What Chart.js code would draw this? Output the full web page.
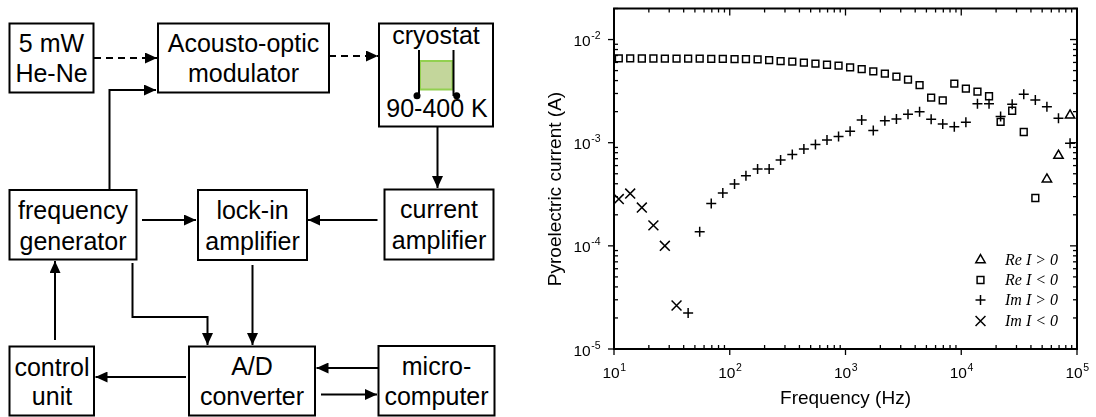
<!DOCTYPE html>
<html lang="en">

<head>
  <meta charset="UTF-8" />
  <title>Pyroelectric current measurement</title>
  <script src="https://cdn.jsdelivr.net/npm/chart.js@4.4.0/dist/chart.umd.min.js"></script>
  <style>
    html,
    body {
      margin: 0;
      padding: 0;
      background: #fff;
    }

    body {
      width: 1096px;
      height: 417px;
      position: relative;
      overflow: hidden;
      font-family: "Liberation Sans", Arial, sans-serif;
    }

    #setup {
      position: absolute;
      left: 0;
      top: 0;
    }

    .plot {
      position: absolute;
      left: 520px;
      top: 0;
    }

    #setup text {
      font-family: "Liberation Sans", Arial, sans-serif;
      font-size: 25px;
      text-anchor: middle;
      fill: #000;
    }
  </style>
</head>

<body>

  <!-- Block diagram of the set-up -->
  <svg id="setup" width="520" height="417" viewBox="0 0 520 417">
    <defs>
      <marker id="head" markerWidth="12" markerHeight="11" refX="12" refY="5.5" orient="auto"
        markerUnits="userSpaceOnUse">
        <path d="M0,0 L12,5.5 L0,11 z" fill="#000" />
      </marker>
    </defs>

    <!-- boxes -->
    <g fill="none" stroke="#000" stroke-width="2">
      <rect x="9.5" y="23.5" width="84" height="69" />
      <rect x="158" y="23.5" width="171" height="69" />
      <rect x="379" y="23.5" width="114" height="103" />
      <rect x="9.5" y="190" width="127" height="69.5" />
      <rect x="198" y="190" width="109" height="70" />
      <rect x="384.5" y="189.5" width="109" height="70" />
      <rect x="9.5" y="346.5" width="84.5" height="69" />
      <rect x="189" y="346.5" width="126" height="69" />
      <rect x="378.5" y="346" width="116" height="69.5" />
    </g>

    <!-- sample inside the cryostat -->
    <rect x="420" y="61" width="32.5" height="28.5" fill="#c3d69b" stroke="#92d050" stroke-width="2" />
    <g stroke="#000" stroke-width="2">
      <line x1="419" y1="50" x2="419" y2="96" />
      <line x1="453.5" y1="50" x2="453.5" y2="96" />
    </g>
    <circle cx="417" cy="95.7" r="3.5" fill="#000" />
    <circle cx="456.7" cy="95.7" r="3.5" fill="#000" />

    <!-- signal paths -->
    <g fill="none" stroke="#000" stroke-width="2" marker-end="url(#head)">
      <line x1="94" y1="58" x2="157" y2="58" stroke-dasharray="7,5" />
      <line x1="329" y1="56" x2="378" y2="56" stroke-dasharray="7,5" />
      <polyline points="109.5,190 109.5,90 156,90" />
      <line x1="437.5" y1="126.5" x2="437.5" y2="188" />
      <line x1="142" y1="220" x2="196" y2="220" />
      <line x1="377.5" y1="220" x2="308" y2="220" />
      <line x1="252.5" y1="265" x2="252.5" y2="345" />
      <polyline points="132.5,263 132.5,317 207.5,317 207.5,345" />
      <line x1="55" y1="340" x2="55" y2="261" />
      <line x1="186" y1="377" x2="95.5" y2="377" />
      <line x1="378" y1="368" x2="316.5" y2="368" />
      <line x1="321" y1="394.5" x2="377" y2="394.5" />
    </g>

    <!-- labels -->
    <text x="51.5" y="52">5 mW</text>
    <text x="51.5" y="82">He-Ne</text>
    <text x="243.5" y="52">Acousto-optic</text>
    <text x="243.5" y="82">modulator</text>
    <text x="436" y="44">cryostat</text>
    <text x="437" y="117">90-400 K</text>
    <text x="73" y="219">frequency</text>
    <text x="73" y="250">generator</text>
    <text x="252.5" y="219">lock-in</text>
    <text x="252.5" y="250">amplifier</text>
    <text x="439" y="218">current</text>
    <text x="439" y="249">amplifier</text>
    <text x="52" y="376">control</text>
    <text x="52" y="405">unit</text>
    <text x="252" y="375">A/D</text>
    <text x="252" y="405">converter</text>
    <text x="436.5" y="375">micro-</text>
    <text x="436.5" y="405">computer</text>
  </svg>

  <!-- Pyroelectric current vs frequency -->
  <canvas id="currentChart" class="plot" width="576" height="417"></canvas>

  <script>
    // modulation frequencies, Hz
    const freqHz = [
      11.0, 13.8, 17.4, 21.9, 27.5, 34.7, 43.7, 55.0, 69.2, 87.1,
      110, 138, 174, 219, 275, 347, 437, 550, 692, 871,
      1096, 1380, 1738, 2188, 2754, 3467, 4365, 5495, 6918, 8710,
      10965, 13804, 17378, 21878, 27542, 34674, 43652, 54954, 69183, 87096
    ];

    // real part of the current, A (sign kept)
    const reCurrent = [
      -6.56e-3, -6.56e-3, -6.55e-3, -6.55e-3, -6.54e-3, -6.54e-3, -6.52e-3, -6.52e-3, -6.50e-3, -6.50e-3,
      -6.47e-3, -6.45e-3, -6.42e-3, -6.31e-3, -6.19e-3, -6.10e-3, -5.97e-3, -5.83e-3, -5.70e-3, -5.58e-3,
      -5.37e-3, -5.16e-3, -4.92e-3, -4.67e-3, -4.37e-3, -4.09e-3, -3.62e-3, -2.74e-3, -2.57e-3, -3.74e-3,
      -3.35e-3, -3.13e-3, -2.82e-3, -1.59e-3, -2.04e-3, -1.27e-3, -2.91e-4, 4.42e-4, 7.50e-4, 1.84e-3
    ];

    // imaginary part of the current, A (sign kept)
    const imCurrent = [
      -2.84e-4, -3.21e-4, -2.35e-4, -1.58e-4, -1.00e-4, -2.64e-5, 2.23e-5, 1.37e-4, 2.57e-4, 3.26e-4,
      3.98e-4, 4.79e-4, 5.56e-4, 5.56e-4, 6.78e-4, 7.70e-4, 8.71e-4, 9.61e-4, 1.06e-3, 1.15e-3,
      1.29e-3, 1.66e-3, 1.31e-3, 1.63e-3, 1.70e-3, 1.89e-3, 1.99e-3, 1.69e-3, 1.52e-3, 1.43e-3,
      1.58e-3, 2.38e-3, 2.38e-3, 1.79e-3, 2.36e-3, 2.95e-3, 2.60e-3, 2.23e-3, 1.73e-3, 9.89e-4
    ];

    const xDecades = [1e1, 1e2, 1e3, 1e4, 1e5];
    const yDecades = [1e-5, 1e-4, 1e-3, 1e-2];
    const seriesLabels = ['Re I > 0', 'Re I < 0', 'Im I > 0', 'Im I < 0'];

    const FONT = '"Liberation Sans", Arial, sans-serif';

    // keep the points of one sign, plotted as magnitude
    function pick(values, sign) {
      return freqHz
        .map((f, i) => ({ x: f, y: values[i] * sign }))
        .filter(p => p.y > 0);
    }

    function marker(style, radius) {
      return {
        pointStyle: style,
        pointRadius: radius,
        pointHoverRadius: radius,
        pointBorderWidth: 1.5,
        borderColor: '#000',
        backgroundColor: 'rgba(0,0,0,0)',
        showLine: false
      };
    }

    const series = [
      { label: seriesLabels[0], data: pick(reCurrent, 1), ...marker('triangle', 5.4) },
      { label: seriesLabels[1], data: pick(reCurrent, -1), ...marker('rect', 4.8) },
      { label: seriesLabels[2], data: pick(imCurrent, 1), ...marker('cross', 5) },
      { label: seriesLabels[3], data: pick(imCurrent, -1), ...marker('crossRot', 7) }
    ];

    // 10 with a raised exponent
    function powerLabel(ctx, value, x, y, align) {
      const exp = String(Math.round(Math.log10(value)));
      ctx.font = '15.5px ' + FONT;
      const bw = ctx.measureText('10').width;
      ctx.font = '10.5px ' + FONT;
      const ew = ctx.measureText(exp).width;
      const left = align === 'center' ? x - (bw + ew) / 2 : x - (bw + ew);
      ctx.textAlign = 'left';
      ctx.textBaseline = 'alphabetic';
      ctx.font = '15.5px ' + FONT;
      ctx.fillText('10', left, y);
      ctx.font = '10.5px ' + FONT;
      ctx.fillText(exp, left + bw + 0.5, y - 7);
    }

    // frame, log ticks, tick labels, titles and legend
    const axesFrame = {
      id: 'axesFrame',
      afterDraw(chart) {
        const { ctx, chartArea: a, scales: { x, y } } = chart;
        ctx.save();
        ctx.strokeStyle = '#000';
        ctx.fillStyle = '#000';

        const line = (x1, y1, x2, y2) => {
          ctx.beginPath();
          ctx.moveTo(x1, y1);
          ctx.lineTo(x2, y2);
          ctx.stroke();
        };

        ctx.lineWidth = 1.3;
        xDecades.forEach((d, i) => {
          for (let m = 1; m <= 9; m++) {
            if (m > 1 && i === xDecades.length - 1) break;
            const px = x.getPixelForValue(d * m);
            if (m === 1) {
              line(px, a.bottom, px, a.bottom + 6);
              line(px, a.top, px, a.top + 7);
            } else {
              line(px, a.bottom, px, a.bottom - 4);
              line(px, a.top, px, a.top + 4);
            }
          }
        });
        yDecades.forEach(d => {
          for (let m = 1; m <= 9; m++) {
            const v = d * m;
            if (v > y.max) break;
            const py = y.getPixelForValue(v);
            if (m === 1) {
              line(a.left, py, a.left - 6, py);
              line(a.right, py, a.right - 7, py);
            } else {
              line(a.left, py, a.left + 4, py);
              line(a.right, py, a.right - 4, py);
            }
          }
        });

        ctx.lineWidth = 2;
        ctx.strokeRect(a.left, a.top, a.right - a.left, a.bottom - a.top);

        xDecades.forEach(d => powerLabel(ctx, d, x.getPixelForValue(d), a.bottom + 29, 'center'));
        yDecades.forEach(d => powerLabel(ctx, d, a.left - 14, y.getPixelForValue(d) + 6.5, 'right'));

        // axis titles
        ctx.font = '19px ' + FONT;
        ctx.textAlign = 'center';
        ctx.textBaseline = 'alphabetic';
        ctx.fillText('Frequency (Hz)', (a.left + a.right) / 2, 404);
        ctx.save();
        ctx.translate(36, 189);
        ctx.rotate(-Math.PI / 2);
        ctx.textBaseline = 'middle';
        ctx.fillText('Pyroelectric current (A)', 0, 0);
        ctx.restore();

        // legend in the lower right corner, open markers
        const rows = [260, 280, 300, 321];
        ctx.font = 'italic 16px "Liberation Serif", "Times New Roman", serif';
        ctx.textAlign = 'left';
        ctx.textBaseline = 'middle';
        series.forEach((s, i) => {
          ctx.lineWidth = s.pointBorderWidth;
          ctx.fillStyle = 'rgba(0,0,0,0)';
          Chart.helpers.drawPoint(ctx, {
            pointStyle: s.pointStyle,
            radius: s.pointRadius,
            borderWidth: s.pointBorderWidth,
            rotation: 0
          }, 460.5, rows[i]);
          ctx.fillStyle = '#000';
          ctx.fillText(s.label, 485, rows[i] + 1);
        });
        ctx.restore();
      }
    };

    new Chart(document.getElementById('currentChart'), {
      type: 'scatter',
      data: { datasets: series },
      options: {
        responsive: false,
        animation: false,
        devicePixelRatio: 1,
        layout: { padding: { left: 94, right: 19, top: 5, bottom: 68 } },
        scales: {
          x: { type: 'logarithmic', min: 10, max: 1e5, display: false },
          y: { type: 'logarithmic', min: 1e-5, max: 2e-2, display: false }
        },
        plugins: {
          legend: { display: false },
          tooltip: { enabled: false }
        }
      },
      plugins: [axesFrame]
    });
  </script>
</body>

</html>
